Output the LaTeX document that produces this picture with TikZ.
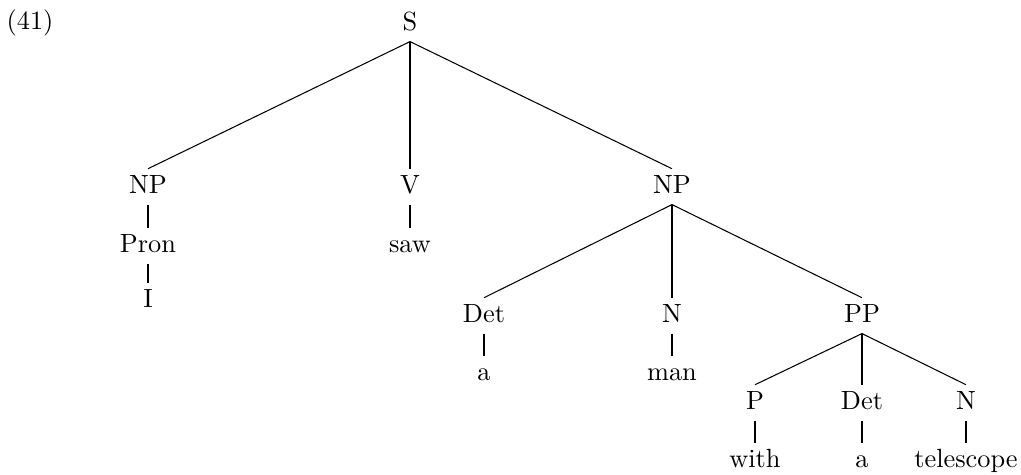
\documentclass[tikz,border=0pt]{standalone}
\begin{document}
\begin{tikzpicture}[x=0.38pt,y=-0.38pt,
  lbl/.style={anchor=base,inner sep=2.2pt,text height=6.83pt,text depth=2pt,font=\normalsize},
  edge/.style={draw=black,line width=0.4pt}]
\useasboundingbox (0,0) rectangle (1021,475);
\node[anchor=base,inner sep=0pt] (ex) at (30,29) {(41)};
\node[lbl] (S) at (410,30) {S};
\node[lbl] (NPa) at (148,193) {NP};
\node[lbl] (V) at (410,193) {V};
\node[lbl] (NPb) at (672,193) {NP};
\node[lbl] (Pron) at (148,252) {Pron};
\node[lbl] (saw) at (410,252) {saw};
\node[lbl] (I) at (148,307) {I};
\node[lbl] (Det) at (484,322) {Det};
\node[lbl] (N) at (672,322) {N};
\node[lbl] (PP) at (862,322) {PP};
\node[lbl] (a) at (484,380) {a};
\node[lbl] (man) at (672,380) {man};
\node[lbl] (P) at (755,409) {P};
\node[lbl] (Detb) at (862,409) {Det};
\node[lbl] (Nb) at (966,409) {N};
\node[lbl] (with) at (755,467) {with};
\node[lbl] (ab) at (862,467) {a};
\node[lbl] (tel) at (966,467) {telescope};
\draw[edge] (S.south) -- (NPa.north);
\draw[edge] (S.south) -- (V.north);
\draw[edge] (S.south) -- (NPb.north);
\draw[edge] (NPa.south) -- (Pron.north);
\draw[edge] (Pron.south) -- (I.north);
\draw[edge] (V.south) -- (saw.north);
\draw[edge] (NPb.south) -- (Det.north);
\draw[edge] (NPb.south) -- (N.north);
\draw[edge] (NPb.south) -- (PP.north);
\draw[edge] (Det.south) -- (a.north);
\draw[edge] (N.south) -- (man.north);
\draw[edge] (PP.south) -- (P.north);
\draw[edge] (PP.south) -- (Detb.north);
\draw[edge] (PP.south) -- (Nb.north);
\draw[edge] (P.south) -- (with.north);
\draw[edge] (Detb.south) -- (ab.north);
\draw[edge] (Nb.south) -- (tel.north);
\end{tikzpicture}
\end{document}
